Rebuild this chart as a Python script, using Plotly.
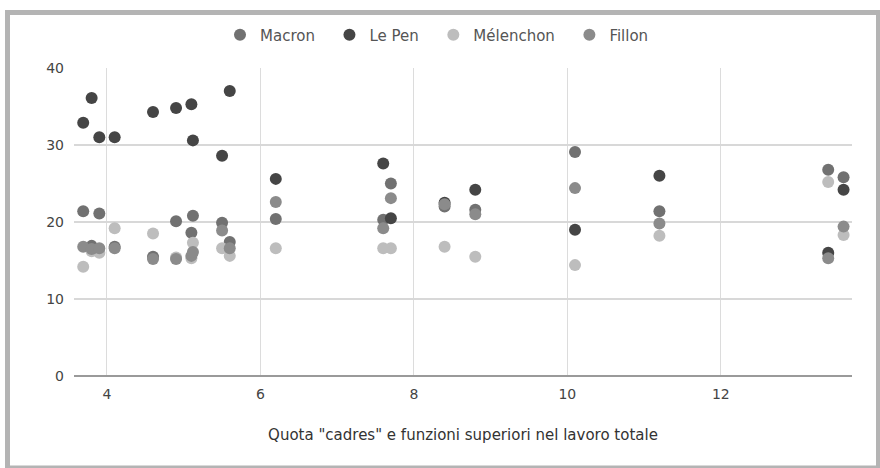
import plotly.graph_objects as go

# share of "cadres" (x) and vote share per candidate (y)
quota_cadres = [3.69, 3.80, 3.90, 4.10, 4.60, 4.90, 5.10, 5.12, 5.50, 5.60,
                6.20, 7.60, 7.70, 8.40, 8.80, 10.10, 11.20, 13.40, 13.60]
macron   = [21.4, 16.9, 21.1, 16.8, 15.5, 20.1, 18.6, 20.8, 19.9, 17.4,
            20.4, 20.3, 25.0, 22.0, 21.6, 29.1, 21.4, 26.8, 25.8]
le_pen   = [32.9, 36.1, 31.0, 31.0, 34.3, 34.8, 35.3, 30.6, 28.6, 37.0,
            25.6, 27.6, 20.5, 22.5, 24.2, 19.0, 26.0, 16.0, 24.2]
melenchon = [14.2, 16.2, 16.0, 19.2, 18.5, 15.4, 15.3, 17.3, 16.6, 15.6,
             16.6, 16.6, 16.6, 16.8, 15.5, 14.4, 18.2, 25.2, 18.3]
fillon   = [16.8, 16.5, 16.6, 16.6, 15.2, 15.2, 15.6, 16.1, 18.9, 16.6,
            22.6, 19.2, 23.1, 22.3, 21.0, 24.4, 19.8, 15.3, 19.4]

series = [("Macron", macron, "#717171"),
          ("Le Pen", le_pen, "#454545"),
          ("Mélenchon", melenchon, "#bdbdbd"),
          ("Fillon", fillon, "#8b8b8b")]

fig = go.Figure()
pad = "\u00a0\u00a0"
for name, vals, col in series:
    fig.add_trace(go.Scatter(x=quota_cadres, y=vals, mode="markers", name=name + pad,
                             marker=dict(size=12, color=col, line=dict(width=0))))

L, R, T, B = 74, 28, 68, 92
W, H = 880, 468
pw, ph = W - L - R, H - T - B
def px2x(p): return (p - L) / pw
def py2y(p): return (H - B - p) / ph

fig.update_layout(
    width=W, height=H,
    margin=dict(l=L, r=R, t=T, b=B),
    paper_bgcolor="white", plot_bgcolor="white",
    font=dict(family="DejaVu Sans", size=14, color="#444"),
    showlegend=True,
    legend=dict(orientation="h", x=px2x(220), xanchor="left",
                y=py2y(35), yanchor="middle", font=dict(size=15, color="#555"),
                itemsizing="trace", bgcolor="rgba(0,0,0,0)"),
    xaxis=dict(range=[3.57, 13.71], tickvals=[4, 6, 8, 10, 12],
               showgrid=True, gridcolor="#dcdcdc", gridwidth=1,
               zeroline=False, showline=False, ticks="", ticklabelstandoff=8,
               tickfont=dict(size=14, color="#444"),
               title=dict(text="Quota \"cadres\" e funzioni superiori nel lavoro totale",
                          font=dict(size=15, color="#333"), standoff=28)),
    yaxis=dict(range=[0, 40], tickvals=[0, 10, 20, 30, 40],
               showgrid=True, gridcolor="#d8d8d8", gridwidth=2,
               zeroline=True, zerolinecolor="#9a9a9a", zerolinewidth=2,
               showline=False, ticks="", ticklabelstandoff=9,
               tickfont=dict(size=14, color="#444")),
    shapes=[dict(type="rect", xref="paper", yref="paper",
                 x0=px2x(7.5), x1=px2x(878.5), y0=py2y(468), y1=py2y(12.5),
                 line=dict(color="#b4b4b4", width=5), fillcolor="rgba(0,0,0,0)",
                 layer="above")],
)

fig.write_html("out.html", config={"displayModeBar": False},
               post_script="document.body.style.margin='0';document.body.style.overflow='hidden';")
